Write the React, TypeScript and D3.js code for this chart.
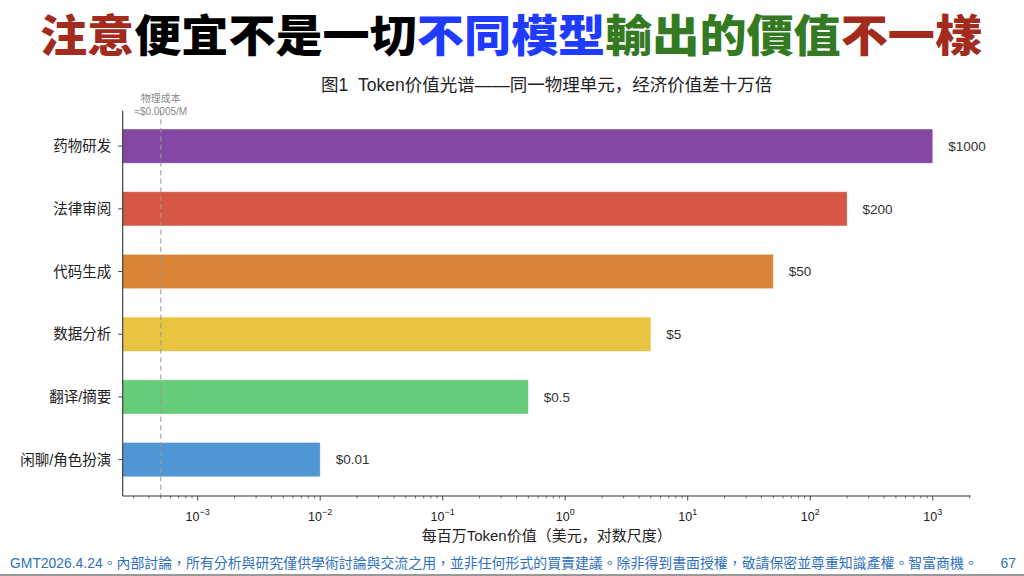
import React, { useEffect, useRef } from "react";
import * as d3 from "d3";

const categories = ["药物研发", "法律审阅", "代码生成", "数据分析", "翻译/摘要", "闲聊/角色扮演"];
const values = [1000, 200, 50, 5, 0.5, 0.01];
const valueLabels = ["$1000", "$200", "$50", "$5", "$0.5", "$0.01"];
const barColors = ["#8447A3", "#D65745", "#D98334", "#E8C440", "#66CC7A", "#5096D4"];
const majorTickExps = [-3, -2, -1, 0, 1, 2, 3];
const physicalCost = 0.0005;
const titleParts = [
  { t: "注意", c: "#A32B1E" },
  { t: "便宜不是一切", c: "#000000" },
  { t: "不同模型", c: "#1F3BFF" },
  { t: "輸出的價值", c: "#347A23" },
  { t: "不一樣", c: "#A32B1E" },
];
const chartTitle = "图1\u00A0\u00A0Token价值光谱——同一物理单元，经济价值差十万倍";
const xAxisLabel = "每百万Token价值（美元，对数尺度）";
const footerText = "GMT2026.4.24。內部討論，所有分析與研究僅供學術討論與交流之用，並非任何形式的買賣建議。除非得到書面授權，敬請保密並尊重知識產權。智富商機。";
const pageNumber = "67";

const FONT = "'Liberation Sans', Arial, 'Noto Sans CJK SC', sans-serif";

export default function App() {
  const ref = useRef<SVGSVGElement>(null);

  useEffect(() => {
    const svg = d3.select(ref.current);
    svg.selectAll("*").remove();

    const left = 122.7, right = 970.7, top = 110.7, bottom = 496;
    const x = d3.scaleLog().domain([Math.pow(10, -3.612), Math.pow(10, 3.31)]).range([left, right]);
    const y = d3.scaleLinear().domain([-0.565, 5.58]).range([top, bottom]);
    const barH = 0.545;

    // Main title
    const tt = svg.append("text")
      .attr("x", 40).attr("y", 51.5)
      .attr("textLength", 942)
      .attr("lengthAdjust", "spacingAndGlyphs")
      .attr("font-family", "'Noto Sans CJK TC', 'Noto Sans CJK SC', sans-serif")
      .attr("font-weight", 900)
      .attr("font-size", 44);
    titleParts.forEach(p => tt.append("tspan").attr("fill", p.c).text(p.t));

    // chart title
    svg.append("text")
      .attr("x", (left + right) / 2).attr("y", 90.5)
      .attr("text-anchor", "middle")
      .attr("font-family", FONT).attr("font-size", 17.5).attr("fill", "#222")
      .text(chartTitle);

    // bars
    const g = svg.append("g");
    categories.forEach((c, i) => {
      g.append("rect")
        .attr("x", left)
        .attr("y", y(i - barH / 2))
        .attr("width", x(values[i]) - left)
        .attr("height", y(i + barH / 2) - y(i - barH / 2))
        .attr("fill", barColors[i])
        .attr("stroke", "#fff").attr("stroke-opacity", 0.4).attr("stroke-width", 0.8);
      g.append("text")
        .attr("x", x(values[i]) + 15.5).attr("y", y(i))
        .attr("dy", "0.35em")
        .attr("font-family", FONT).attr("font-size", 13.5).attr("fill", "#333")
        .text(valueLabels[i]);
      // y tick
      g.append("line").attr("x1", left - 4.5).attr("x2", left).attr("y1", y(i)).attr("y2", y(i))
        .attr("stroke", "#333").attr("stroke-width", 0.9);
      g.append("text")
        .attr("x", left - 11.5).attr("y", y(i)).attr("dy", "0.35em")
        .attr("text-anchor", "end")
        .attr("font-family", FONT).attr("font-size", 14.5).attr("fill", "#222")
        .text(c);
    });

    // physical cost line
    svg.append("line")
      .attr("x1", x(physicalCost)).attr("x2", x(physicalCost))
      .attr("y1", top).attr("y2", bottom)
      .attr("stroke", "#999").attr("stroke-opacity", 0.75).attr("stroke-width", 1.4)
      .attr("stroke-dasharray", "5,3.5");
    svg.append("text")
      .attr("x", x(physicalCost)).attr("y", 101.5)
      .attr("text-anchor", "middle")
      .attr("font-family", FONT).attr("font-size", 10).attr("fill", "#888")
      .text("物理成本");
    svg.append("text")
      .attr("x", x(physicalCost)).attr("y", 115)
      .attr("text-anchor", "middle")
      .attr("font-family", FONT).attr("font-size", 10).attr("fill", "#888")
      .text("≈$0.0005/M");

    // spines
    svg.append("line").attr("x1", left).attr("x2", left).attr("y1", top).attr("y2", bottom)
      .attr("stroke", "#333").attr("stroke-width", 1.1);
    svg.append("line").attr("x1", left).attr("x2", right).attr("y1", bottom).attr("y2", bottom)
      .attr("stroke", "#333").attr("stroke-width", 1.1);

    // x ticks
    const [d0, d1] = x.domain();
    for (let e = Math.floor(Math.log10(d0)); e <= Math.ceil(Math.log10(d1)); e++) {
      for (let m = 1; m < 10; m++) {
        const v = m * Math.pow(10, e);
        if (v < d0 || v > d1) continue;
        const major = m === 1;
        svg.append("line")
          .attr("x1", x(v)).attr("x2", x(v))
          .attr("y1", bottom).attr("y2", bottom + (major ? 4.5 : 2.5))
          .attr("stroke", "#333").attr("stroke-width", major ? 0.9 : 0.7);
      }
    }
    majorTickExps.forEach(e => {
      const t = svg.append("text")
        .attr("x", x(Math.pow(10, e))).attr("y", 520.5)
        .attr("text-anchor", "middle")
        .attr("font-family", FONT).attr("font-size", 12.5).attr("fill", "#222");
      t.append("tspan").text("10");
      t.append("tspan").attr("dy", -5.5).attr("font-size", 9).text(e < 0 ? "−" + Math.abs(e) : String(e));
    });

    svg.append("text")
      .attr("x", (left + right) / 2).attr("y", 540.5)
      .attr("text-anchor", "middle")
      .attr("font-family", FONT).attr("font-size", 15).attr("fill", "#222")
      .text(xAxisLabel);

    // footer
    svg.append("text")
      .attr("x", 10).attr("y", 568)
      .attr("font-family", "'Liberation Sans', 'Noto Sans CJK TC', sans-serif")
      .attr("font-size", 13.9).attr("fill", "#2E6FC0")
      .text(footerText);
    svg.append("text")
      .attr("x", 1016).attr("y", 568)
      .attr("text-anchor", "end")
      .attr("font-family", "'Liberation Sans', sans-serif")
      .attr("font-size", 13.9).attr("fill", "#2E6FC0")
      .text(pageNumber);
    svg.append("line").attr("x1", 0).attr("x2", 1024).attr("y1", 575).attr("y2", 575)
      .attr("stroke", "#999").attr("stroke-width", 2);
  }, []);

  return (
    <div style={{ position: "fixed", left: 0, top: 0, width: 1024, height: 576, background: "#fff" }}>
      <svg ref={ref} width={1024} height={576} style={{ display: "block" }} />
    </div>
  );
}
